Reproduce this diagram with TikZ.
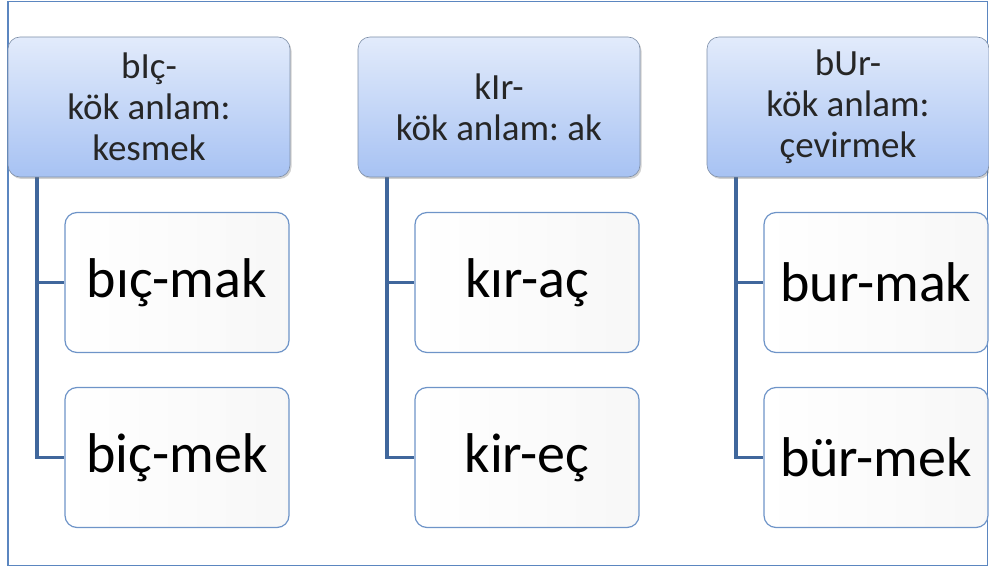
\documentclass[tikz,border=0pt]{standalone}
\usepackage{fontspec}
\setmainfont{Carlito}
\frenchspacing
\usetikzlibrary{shadows}
\definecolor{frameblue}{HTML}{5B86C0}
\definecolor{linkblue}{HTML}{40679C}
\definecolor{headtop}{HTML}{E2EBFB}
\definecolor{headbot}{HTML}{A7C2F3}
\definecolor{headedge}{HTML}{7E8FA8}
\definecolor{childedge}{HTML}{6E94C8}
\tikzset{
  x=1pt, y=-1pt,
  headbox/.style={rounded corners=12pt, draw=headedge, line width=0.6pt,
    top color=headtop, bottom color=headbot,
    minimum width=282pt, minimum height=140pt, inner sep=0pt,
    drop shadow={shadow xshift=1.5pt, shadow yshift=-2pt, opacity=0.3, fill=black!60},
    font=\fontsize{37}{41}\selectfont, align=center, text=black!85},
  childbox/.style={rounded corners=12pt, draw=childedge, line width=1.2pt,
    left color=white, right color=black!3,
    minimum width=224pt, minimum height=140pt, inner sep=0pt,
    font=\fontsize{56}{60}\selectfont, text=black},
  link/.style={draw=linkblue, line width=3.8pt}
}
\begin{document}
\begin{tikzpicture}
\useasboundingbox (0,0) rectangle (989,567);
% outer frame
\draw[frameblue, line width=1.2pt] (8,1.5) rectangle (987.5,565.5);

% one column: header, two children and the connectors
\foreach \n/\xo/\headlabel/\ca/\cb in {
  a/0/{bIç-\\kök anlam:\\kesmek}/bıç-mak/biç-mek,
  b/350/{kIr-\\kök anlam: ak}/kır-aç/kir-eç,
  c/699/{bUr-\\kök anlam:\\çevirmek}/bur-mak/bür-mek}{
  \begin{scope}[xshift=\xo pt]
    \node[childbox] (\n c1) at (177,282.5) {\ca};
    \node[childbox] (\n c2) at (177,457.5) {\cb};
    \coordinate (\n top) at (37,150);
    \coordinate (\n k1) at (37,282.5);
    \coordinate (\n k2) at (37,457.5);
    \draw[link] (\n top) -- (\n k2) -- (\n c2.west);
    \draw[link] (\n k1) -- (\n c1.west);
    \node[headbox] (\n h) at (149,107) {\headlabel};
  \end{scope}
}
\end{tikzpicture}
\end{document}
